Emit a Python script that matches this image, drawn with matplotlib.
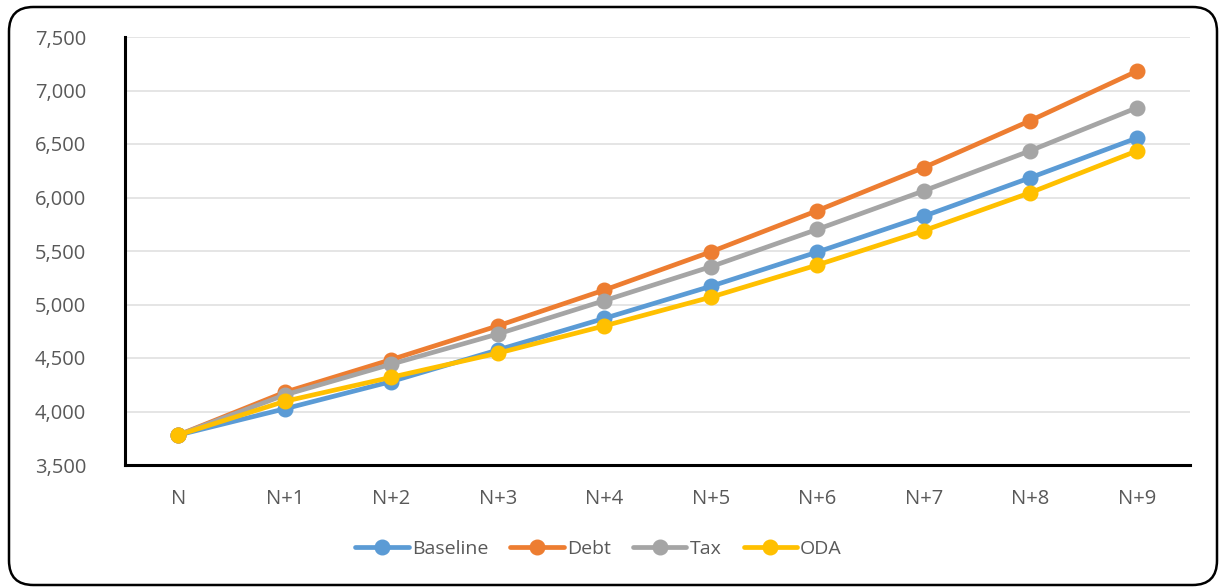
import matplotlib
matplotlib.use("Agg")
import matplotlib.pyplot as plt
from matplotlib.patches import FancyBboxPatch
from matplotlib.ticker import FuncFormatter, MultipleLocator

years = ["N", "N+1", "N+2", "N+3", "N+4", "N+5", "N+6", "N+7", "N+8", "N+9"]
baseline = [3780, 4025, 4280, 4575, 4870, 5170, 5490, 5825, 6185, 6555]
debt = [3780, 4180, 4485, 4800, 5135, 5492, 5877, 6280, 6718, 7180]
tax = [3780, 4155, 4442, 4724, 5036, 5353, 5702, 6062, 6437, 6838]
oda = [3780, 4095, 4320, 4545, 4800, 5068, 5369, 5690, 6045, 6435]

series = [
    ("Baseline", baseline, "#5B9BD5"),
    ("Debt", debt, "#ED7D31"),
    ("Tax", tax, "#A5A5A5"),
    ("ODA", oda, "#FFC000"),
]

plt.rcParams["font.family"] = ["Open Sans", "DejaVu Sans"]

W, H = 1219, 587
fig = plt.figure(figsize=(W / 100, H / 100), dpi=100)
ax = fig.add_axes([125 / W, 1 - 465 / H, 1065 / W, 428 / H])

x = list(range(len(years)))
for name, vals, col in series:
    ax.plot(x, vals, color=col, lw=3.4, marker="o", ms=10.5,
            solid_capstyle="round", label=name)

ax.set_xlim(-0.5, len(years) - 0.5)
ax.set_ylim(3500, 7500)
ax.yaxis.set_major_locator(MultipleLocator(500))
ax.yaxis.set_major_formatter(FuncFormatter(lambda v, p: f"{int(v):,}"))
ax.set_xticks(x)
ax.set_xticklabels(years)
ax.tick_params(axis="both", length=0, labelsize=14.5, labelcolor="#595959")
ax.tick_params(axis="x", pad=17)
ax.tick_params(axis="y", pad=28)
ax.grid(axis="y", color="#E3E3E3", lw=1.3)
ax.set_axisbelow(True)

for s in ["top", "right"]:
    ax.spines[s].set_visible(False)
for s in ["left", "bottom"]:
    ax.spines[s].set_color("black")
    ax.spines[s].set_linewidth(2.2)

leg = ax.legend(loc="center", bbox_to_anchor=((598.5 - 125) / 1065, -(549 - 465) / 428),
                ncol=4, frameon=False, fontsize=14, handlelength=2.75,
                columnspacing=1.15, handletextpad=0.15, labelcolor="#595959",
                borderpad=0)

frame = FancyBboxPatch((9 / W, 2 / H), 1208 / W, 578 / H,
                       boxstyle="round,pad=0,rounding_size=0.02",
                       transform=fig.transFigure, fill=False,
                       edgecolor="black", lw=1.8, mutation_aspect=W / H)
fig.patches.append(frame)

fig.savefig("out.png", dpi=100)
